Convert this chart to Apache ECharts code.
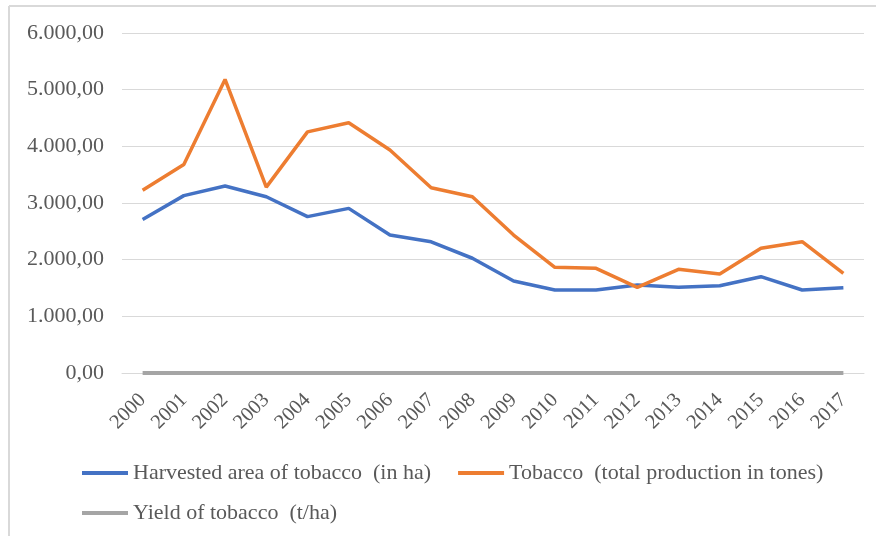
<!DOCTYPE html>
<html><head><meta charset="utf-8">
<script src="https://cdn.jsdelivr.net/npm/echarts@6/dist/echarts.min.js"></script>
<style>html,body{margin:0;padding:0;background:#fff}#c{width:876px;height:536px}</style>
</head><body><div id="c"></div>
<script>
const years = ['2000','2001','2002','2003','2004','2005','2006','2007','2008','2009','2010','2011','2012','2013','2014','2015','2016','2017'];
const harvestedArea = [2710,3130,3300,3110,2760,2905,2435,2315,2025,1625,1465,1465,1553,1512,1541,1700,1465,1506];
const totalProduction = [3225,3680,5180,3280,4255,4415,3935,3270,3110,2435,1865,1847,1512,1829,1747,2200,2317,1759];
const yieldTobacco = [1.19,1.18,1.57,1.05,1.54,1.52,1.62,1.41,1.54,1.50,1.27,1.26,0.97,1.21,1.13,1.29,1.58,1.17];
const seriesNames = ['Harvested area of tobacco  (in ha)','Tobacco  (total production in tones)','Yield of tobacco  (t/ha)'];

function fmt(v){
  const parts = v.toFixed(2).split('.');
  parts[0] = parts[0].replace(/\B(?=(\d{3})+(?!\d))/g,'.');
  return parts[0] + ',' + parts[1];
}
const font = 'Liberation Serif';
const chart = echarts.init(document.getElementById('c'));
chart.setOption({
  animation:false,
  backgroundColor:'#fff',
  graphic:[
    {type:'line',shape:{x1:9,y1:6,x2:876,y2:6},style:{stroke:'#D9D9D9',lineWidth:2}},
    {type:'line',shape:{x1:9,y1:6,x2:9,y2:536},style:{stroke:'#D9D9D9',lineWidth:2}}
  ],
  grid:{left:122,right:12,top:33,bottom:163,containLabel:false},
  legend:[
    {data:[seriesNames[0],seriesNames[1]],left:82,top:462,padding:0,icon:'rect',itemWidth:46,itemHeight:4,itemGap:27,
     textStyle:{fontFamily:font,fontSize:22,color:'#595959'}},
    {data:[seriesNames[2]],left:82,top:502,padding:0,icon:'rect',itemWidth:46,itemHeight:4,
     textStyle:{fontFamily:font,fontSize:22,color:'#595959'}}
  ],
  xAxis:{type:'category',data:years,boundaryGap:true,
    axisLine:{show:true,lineStyle:{color:'#D9D9D9',width:1}},axisTick:{show:false},
    axisLabel:{rotate:45,margin:24,interval:0,fontFamily:font,fontSize:20.5,color:'#595959'}},
  yAxis:{type:'value',min:0,max:6000,interval:1000,
    axisLine:{show:false},axisTick:{show:false},
    splitLine:{lineStyle:{color:'#D9D9D9',width:1}},
    axisLabel:{margin:18,fontFamily:font,fontSize:22,color:'#595959',formatter:fmt}},
  series:[
    {name:seriesNames[0],type:'line',data:harvestedArea,showSymbol:false,symbol:'none',lineStyle:{color:'#4472C4',width:3.5},itemStyle:{color:'#4472C4'}},
    {name:seriesNames[1],type:'line',data:totalProduction,showSymbol:false,symbol:'none',lineStyle:{color:'#ED7D31',width:3.5},itemStyle:{color:'#ED7D31'}},
    {name:seriesNames[2],type:'line',data:yieldTobacco,showSymbol:false,symbol:'none',lineStyle:{color:'#A5A5A5',width:4},itemStyle:{color:'#A5A5A5'}}
  ]
});
</script></body></html>
